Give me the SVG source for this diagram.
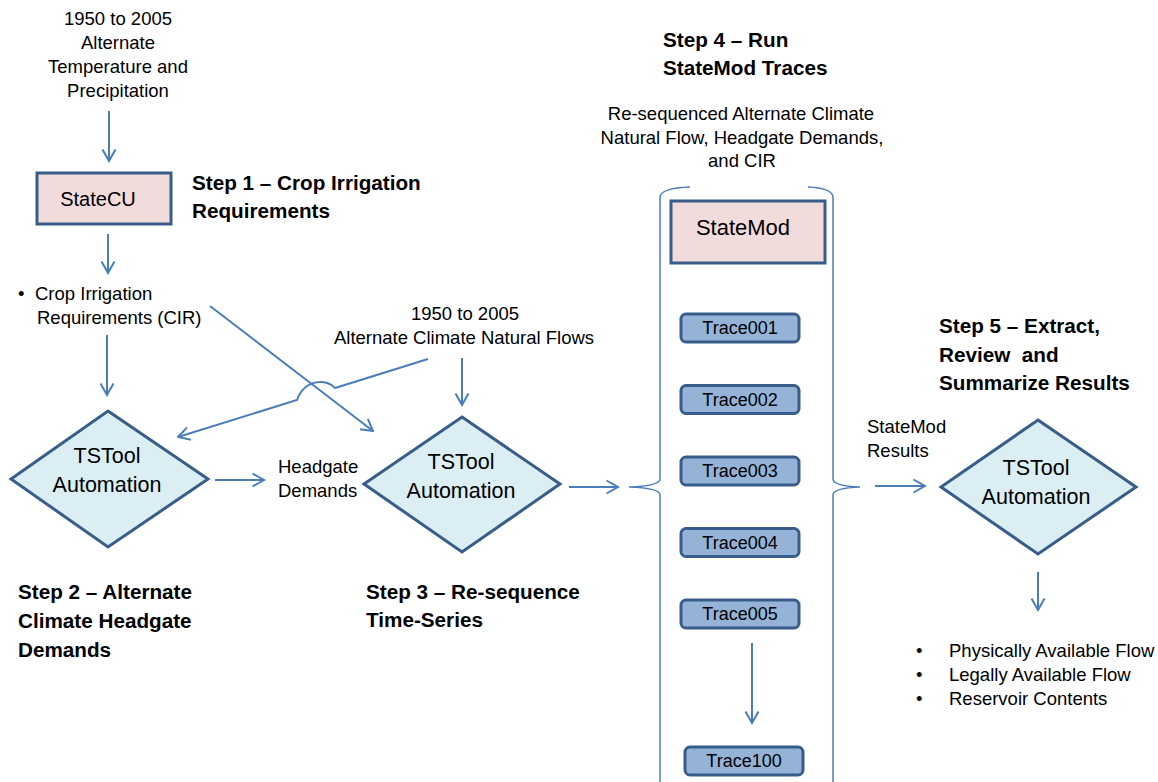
<svg xmlns="http://www.w3.org/2000/svg" width="1158" height="782" viewBox="0 0 1158 782">
<defs>
<marker id="arr" markerUnits="userSpaceOnUse" viewBox="0 0 14 16" markerWidth="14" markerHeight="16" refX="12.5" refY="8" orient="auto">
<path d="M1,1.5 L12.5,8 L1,14.5" fill="none" stroke="#4A7EBB" stroke-width="2"/>
</marker>
<style>
text{font-family:"Liberation Sans",Arial,sans-serif;fill:#000}
.t{font-size:18.5px}
.h{font-size:20.7px;font-weight:bold}
.lbl{font-size:21.5px;text-anchor:middle}
.tr{font-size:18px;text-anchor:middle}
.c{text-anchor:middle}
.con{fill:none;stroke:#4A7EBB;stroke-width:2}
.brace{fill:none;stroke:#4A7EBB;stroke-width:1.5}
.pink{fill:#F2DCDB;stroke:#385D8A;stroke-width:3}
.dia{fill:#DBEEF4;stroke:#385D8A;stroke-width:3;stroke-linejoin:miter}
.trace{fill:#95B3D7;stroke:#385D8A;stroke-width:3}
</style>
</defs>
<rect width="1158" height="782" fill="#fff"/>

<g id="connectors">
<line class="con" x1="109" y1="111" x2="109" y2="161" marker-end="url(#arr)"/>
<line class="con" x1="108" y1="234" x2="108" y2="273" marker-end="url(#arr)"/>
<line class="con" x1="107" y1="335" x2="107" y2="395" marker-end="url(#arr)"/>
<line class="con" x1="210" y1="306" x2="373" y2="431" marker-end="url(#arr)"/>
<path class="con" d="M428,359 L335,388 C328,379 305,378 297,400 L178,437" marker-end="url(#arr)"/>
<line class="con" x1="462" y1="358" x2="462" y2="405" marker-end="url(#arr)"/>
<line class="con" x1="215" y1="480" x2="264" y2="480" marker-end="url(#arr)"/>
<line class="con" x1="569" y1="487" x2="618" y2="487" marker-end="url(#arr)"/>
<line class="con" x1="752" y1="643" x2="752" y2="723" marker-end="url(#arr)"/>
<line class="con" x1="875" y1="486" x2="925" y2="486" marker-end="url(#arr)"/>
<line class="con" x1="1038" y1="572" x2="1038" y2="610" marker-end="url(#arr)"/>
</g>

<g id="input-temp-precip">
<text class="t c" x="118" y="25">1950 to 2005</text>
<text class="t c" x="118" y="49">Alternate</text>
<text class="t c" x="118" y="73">Temperature and</text>
<text class="t c" x="118" y="97">Precipitation</text>
</g>

<g id="statecu">
<rect class="pink" x="37" y="173" width="134" height="51"/>
<text x="98" y="206" style="font-size:20px;text-anchor:middle">StateCU</text>
</g>

<g id="step1">
<text class="h" x="192" y="190">Step 1 – Crop Irrigation</text>
<text class="h" x="192" y="218">Requirements</text>
</g>

<g id="cir">
<text class="t" x="18" y="300">•</text>
<text class="t" x="35" y="300">Crop Irrigation</text>
<text class="t" x="37" y="324">Requirements (CIR)</text>
</g>

<g id="natural-flows">
<text class="t c" x="465" y="320">1950 to 2005</text>
<text class="t c" x="464" y="344">Alternate Climate Natural Flows</text>
</g>

<g id="tstool1">
<polygon class="dia" points="108,411 208,479 108,547 11,479"/>
<text class="lbl" x="107" y="463">TSTool</text>
<text class="lbl" x="107" y="492">Automation</text>
</g>

<g id="headgate">
<text class="t" x="278" y="473">Headgate</text>
<text class="t" x="278" y="497">Demands</text>
</g>

<g id="tstool2">
<polygon class="dia" points="462,417 560,484 462,552 364,484"/>
<text class="lbl" x="461" y="469">TSTool</text>
<text class="lbl" x="461" y="498">Automation</text>
</g>

<g id="step2">
<text class="h" x="18" y="599">Step 2 – Alternate</text>
<text class="h" x="18" y="628">Climate Headgate</text>
<text class="h" x="18" y="657">Demands</text>
</g>

<g id="step3">
<text class="h" x="366" y="599">Step 3 – Re-sequence</text>
<text class="h" x="366" y="627">Time-Series</text>
</g>

<g id="step4">
<text class="h" x="663" y="47">Step 4 – Run</text>
<text class="h" x="663" y="75">StateMod Traces</text>
<text class="t c" x="741" y="120">Re-sequenced Alternate Climate</text>
<text class="t c" x="742" y="144">Natural Flow, Headgate Demands,</text>
<text class="t c" x="742" y="167">and CIR</text>
</g>

<g id="statemod-group">
<path class="brace" d="M690,187 Q661,188 660,197 L660,479 Q660,486 629,487 Q660,488 660,495 L660,790"/>
<path class="brace" d="M808,187 Q832,188 833,197 L833,479 Q833,486 860,487 Q833,488 833,495 L833,790"/>
</g>

<g id="statemod">
<rect class="pink" x="671" y="201" width="154" height="62"/>
<text x="743" y="235" style="font-size:22px;text-anchor:middle">StateMod</text>
</g>

<g id="trace001">
<rect class="trace" x="681" y="314" width="118" height="28" rx="5"/>
<text class="tr" x="740" y="334">Trace001</text>
</g>
<g id="trace002">
<rect class="trace" x="681" y="385.5" width="118" height="28" rx="5"/>
<text class="tr" x="740" y="405.5">Trace002</text>
</g>
<g id="trace003">
<rect class="trace" x="681" y="457" width="118" height="28" rx="5"/>
<text class="tr" x="740" y="477">Trace003</text>
</g>
<g id="trace004">
<rect class="trace" x="681" y="528.5" width="118" height="28" rx="5"/>
<text class="tr" x="740" y="548.5">Trace004</text>
</g>
<g id="trace005">
<rect class="trace" x="681" y="600" width="118" height="28" rx="5"/>
<text class="tr" x="740" y="620">Trace005</text>
</g>
<g id="trace100">
<rect class="trace" x="685" y="747" width="118" height="28" rx="5"/>
<text class="tr" x="744" y="767">Trace100</text>
</g>

<g id="statemod-results">
<text class="t" x="867" y="433">StateMod</text>
<text class="t" x="867" y="457">Results</text>
</g>

<g id="step5">
<text class="h" x="939" y="333">Step 5 – Extract,</text>
<text class="h" x="939" y="362">Review&#160; and</text>
<text class="h" x="939" y="390">Summarize Results</text>
</g>

<g id="tstool3">
<polygon class="dia" points="1038,420 1136,487 1038,554 941,487"/>
<text class="lbl" x="1036" y="475">TSTool</text>
<text class="lbl" x="1036" y="504">Automation</text>
</g>

<g id="outputs">
<text class="t" x="916" y="657">•</text>
<text class="t" x="949" y="657">Physically Available Flow</text>
<text class="t" x="916" y="681">•</text>
<text class="t" x="949" y="681">Legally Available Flow</text>
<text class="t" x="916" y="705">•</text>
<text class="t" x="949" y="705">Reservoir Contents</text>
</g>
</svg>
